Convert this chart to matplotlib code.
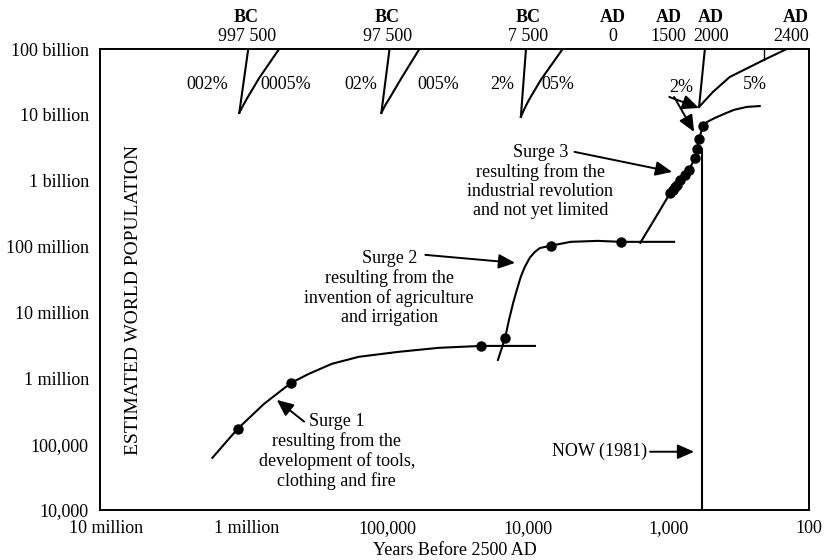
import numpy as np
import matplotlib
matplotlib.use("Agg")
import matplotlib.pyplot as plt
from matplotlib.ticker import NullLocator

plt.rcParams['font.family'] = ['Liberation Serif', 'DejaVu Serif']

# axis ticks
x_ticks = [1e7, 1e6, 1e5, 1e4, 1e3, 1e2]
x_labels = ["10 million", "1 million", "100,000", "10,000", "1,000", "100"]
y_ticks = [1e4, 1e5, 1e6, 1e7, 1e8, 1e9, 1e10, 1e11]
y_labels = ["10,000", "100,000", "1 million", "10 million", "100 million",
            "1 billion", "10 billion", "100 billion"]
top_ticks = [1e6, 1e5, 1e4, 2500, 1000, 500, 100]
top_era = ["BC", "BC", "BC", "AD", "AD", "AD", "AD"]
top_labels = ["997 500", "97 500", "7 500", "0", "1500", "2000", "2400"]

# surge 1 (years before 2500 AD, population)
years1 = [1.75e6, 1.16e6, 7.5e5, 4.83e5, 3.6e5, 2.47e5, 1.59e5, 8.3e4, 4.3e4, 2.15e4, 8.9e3]
pop1 = [6.2e4, 1.7e5, 4.1e5, 8.5e5, 1.17e6, 1.66e6, 2.12e6, 2.52e6, 2.9e6, 3.1e6, 3.1e6]
dots1_years = [1.16e6, 4.83e5, 2.15e4]
dots1_pop = [1.7e5, 8.5e5, 3.1e6]

# surge 2
years2 = [16300, 14500, 13600, 12700, 11900, 11200, 10500, 9660, 8900, 8200, 6870,
          4950, 3190, 2160, 910]
pop2 = [1.9e6, 4.1e6, 7.7e6, 1.4e7, 2.28e7, 3.5e7, 4.9e7, 6.8e7, 8.3e7, 9.5e7, 1.03e8,
        1.18e8, 1.22e8, 1.18e8, 1.18e8]
dots2_years = [14500, 6870, 2160]
dots2_pop = [4.1e6, 1.03e8, 1.18e8]

# surge 3 and projection
years3 = [1585, 1262, 971, 910, 867, 826, 760, 713, 646, 625, 605, 567,
          531, 467, 403, 342, 277, 224]
pop3 = [1.14e8, 2.54e8, 6.5e8, 7.5e8, 8.6e8, 1.03e9, 1.22e9, 1.46e9, 2.22e9,
        3.04e9, 4.31e9, 6.8e9, 7.8e9, 8.97e9, 1.03e10, 1.19e10, 1.32e10, 1.36e10]
dots3_years = [971, 930, 890, 867, 826, 760, 713, 646, 625, 605, 567]
dots3_pop = [6.5e8, 7.2e8, 7.9e8, 8.6e8, 1.03e9, 1.22e9, 1.46e9, 2.22e9, 3.04e9, 4.31e9, 6.8e9]

now_years = 577
now_pop_top = 3.0e9

# growth-rate guide fans: steep line and shallow curve
fan_steep_years = [[1.127e6, 9.73e5], [1.10e5, 9.62e4], [11200, 10300], [605, 550]]
fan_steep_pop = [[1.07e10, 1e11], [1.07e10, 1e11], [9.3e9, 1e11], [1.32e10, 1e11]]
fan_curve_years = [[1.127e6, 1.054e6, 9.89e5, 8.13e5, 5.87e5],
                   [1.10e5, 1.03e5, 9.6e4, 7.91e4, 5.9e4],
                   [11200, 10660, 9820, 8080, 5650],
                   [605, 482, 366, 210, 144]]
fan_curve_pop = [[1.07e10, 1.41e10, 1.8e10, 3.63e10, 1e11],
                 [1.07e10, 1.41e10, 1.8e10, 3.63e10, 1e11],
                 [9.3e9, 1.19e10, 1.68e10, 3.39e10, 1e11],
                 [1.32e10, 2.23e10, 3.76e10, 6.8e10, 1e11]]
fan_labels = ["002%", "0005%", "02%", "005%", "2%", "05%", "2%", "5%"]
fan_label_years = [1.9e6, 5.24e5, 1.54e5, 4.33e4, 15200, 6120, 811, 243]
fan_label_pop = [2.85e10, 2.85e10, 2.85e10, 2.85e10, 2.85e10, 2.85e10, 2.56e10, 2.85e10]

fig = plt.figure(figsize=(8.27, 5.6), dpi=100)
ax = fig.add_axes([0.1209, 0.0893, 0.8573, 0.8232])
ax.set_xscale('log')
ax.set_yscale('log')
ax.set_xlim(1.103e7, 106.7)
ax.set_ylim(1e4, 1e11)

lw = 1.5
ax.plot(years1, pop1, color='black', lw=lw)
ax.plot(years2, pop2, color='black', lw=lw)
ax.plot(years3, pop3, color='black', lw=lw)
ax.plot(dots1_years, dots1_pop, 'o', color='black', ms=6.5)
ax.plot(dots2_years, dots2_pop, 'o', color='black', ms=6.5)
ax.plot(dots3_years, dots3_pop, 'o', color='black', ms=6.5)
ax.plot([now_years, now_years], [1e4, now_pop_top], color='black', lw=lw)

for fy, fp in zip(fan_steep_years, fan_steep_pop):
    ax.plot(fy, fp, color='black', lw=lw)
for fy, fp in zip(fan_curve_years, fan_curve_pop):
    ax.plot(fy, fp, color='black', lw=lw)
ax.plot([210, 210], [6.8e10, 1e11], color='black', lw=1.0)

fs = 13
for t, fx, fp in zip(fan_labels, fan_label_years, fan_label_pop):
    ax.text(fx, fp, t, ha='center', va='center', fontsize=fs)

arrow = dict(arrowstyle='-|>,head_length=0.5,head_width=0.22', color='black',
             lw=1.4, mutation_scale=20, shrinkA=0, shrinkB=0)

ax.text(0.334, 0.126, "Surge 1\nresulting from the\ndevelopment of tools,\nclothing and fire",
        transform=ax.transAxes, ha='center', va='center', fontsize=fs, linespacing=1.15)
ax.annotate('', xy=(6.1e5, 4.7e5), xytext=(3.9e5, 2.2e5), arrowprops=arrow)

ax.text(0.408, 0.482, "Surge 2\nresulting from the\ninvention of agriculture\nand irrigation",
        transform=ax.transAxes, ha='center', va='center', fontsize=fs, linespacing=1.15)
ax.annotate('', xy=(12300, 5.66e7), xytext=(53500, 7.48e7), arrowprops=arrow)

ax.text(0.621, 0.7126, "Surge 3\nresulting from the\nindustrial revolution\nand not yet limited",
        transform=ax.transAxes, ha='center', va='center', fontsize=fs, linespacing=1.15)
ax.annotate('', xy=(940, 1.36e9), xytext=(4650, 2.74e9), arrowprops=arrow)

ax.annotate('', xy=(605, 1.27e10), xytext=(986, 1.87e10), arrowprops=arrow)
ax.annotate('', xy=(656, 5.5e9), xytext=(910, 1.87e10), arrowprops=arrow)

ax.annotate("NOW (1981)", xy=(656, 7.67e4), xytext=(1413, 7.67e4), ha='right', va='center',
            fontsize=fs, arrowprops=arrow)

ax.text(0.047, 0.456, "ESTIMATED WORLD POPULATION", transform=ax.transAxes,
        rotation=90, ha='center', va='center', fontsize=14)

ax.set_xticks(x_ticks)
ax.set_xticklabels(x_labels, fontsize=13)
ax.set_yticks(y_ticks)
ax.set_yticklabels(y_labels, fontsize=13)
ax.xaxis.set_minor_locator(NullLocator())
ax.yaxis.set_minor_locator(NullLocator())
ax.tick_params(axis='x', length=0, pad=7)
ax.tick_params(axis='y', length=0, pad=8)
ax.set_xlabel("Years Before 2500 AD", fontsize=13, labelpad=4)
for s in ax.spines.values():
    s.set_linewidth(1.4)

ax2 = ax.twiny()
ax2.set_xscale('log')
ax2.set_xlim(ax.get_xlim())
ax2.set_xticks(top_ticks)
ax2.set_xticklabels(top_labels, fontsize=13)
ax2.xaxis.set_minor_locator(NullLocator())
ax2.tick_params(axis='x', length=0, pad=3)
ax2.get_xticklabels()[-1].set_ha('right')
for s in ax2.spines.values():
    s.set_visible(False)
for i, (tx, era) in enumerate(zip(top_ticks, top_era)):
    ax.text(tx, 1.068, era, transform=ax.get_xaxis_transform(), fontsize=13,
            fontweight='bold', ha='right' if i == len(top_ticks) - 1 else 'center',
            va='center')

fig.savefig("out.png", dpi=100)
